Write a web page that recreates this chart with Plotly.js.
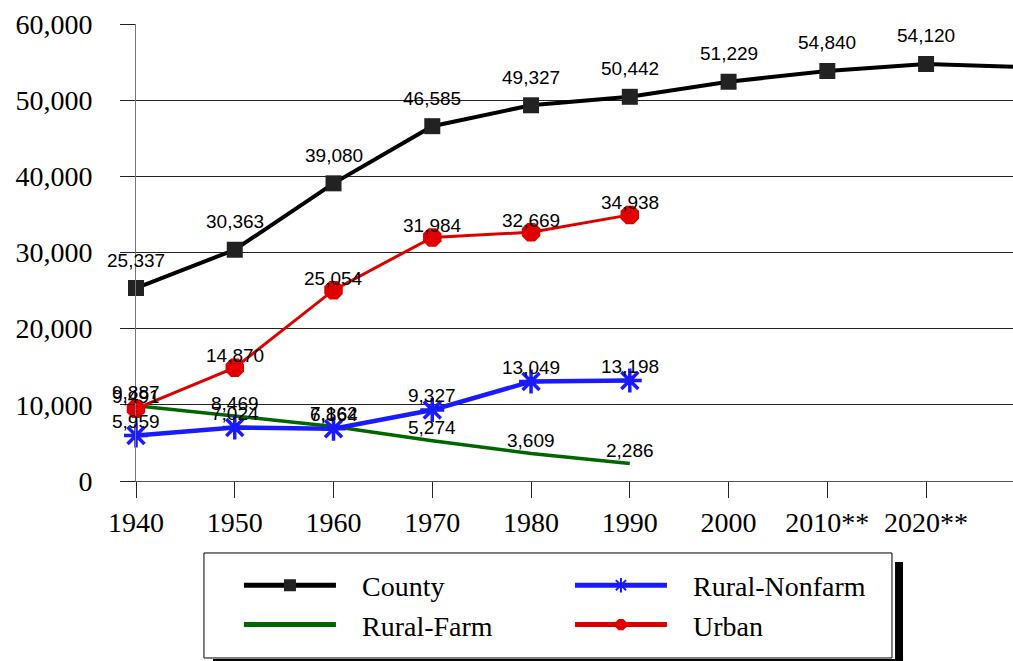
<!DOCTYPE html>
<html>
<head>
<meta charset="utf-8">
<script src="https://cdn.plot.ly/plotly-3.0.1.min.js"></script>
<style>
  html, body { margin: 0; padding: 0; background: #fff; }
  #chart { width: 1013px; height: 661px; }
</style>
</head>
<body>
<div id="chart"></div>
<script>
// ---- data ----
const years = [1940, 1950, 1960, 1970, 1980, 1990];
const countyYears = [1940, 1950, 1960, 1970, 1980, 1990, 2000, 2010, 2020, 2030];
const countyValues = [25337, 30363, 39080, 46585, 49327, 50442, 52420, 53830, 54750, 54340];
const countyLabels = ["25,337", "30,363", "39,080", "46,585", "49,327", "50,442", "51,229", "54,840", "54,120", ""];
const ruralFarm = [9887, 8469, 7162, 5274, 3609, 2286];
const ruralNonfarm = [5959, 7024, 6864, 9327, 13049, 13198];
const urban = [9491, 14870, 25054, 31984, 32669, 34938];
const tickYears = [1940, 1950, 1960, 1970, 1980, 1990, 2000, 2010, 2020];
const tickLabels = ["1940", "1950", "1960", "1970", "1980", "1990", "2000", "2010**", "2020**"];

const fmt = v => v.toLocaleString('en-US');
const pad = '\u00a0\u00a0\u00a0';

const traces = [
  {
    name: pad + 'County', x: countyYears, y: countyValues, type: 'scatter', mode: 'lines+markers',
    line: { color: '#000000', width: 4 },
    marker: { symbol: 'square', size: 16, color: '#222222' },
    cliponaxis: false, legendrank: 1
  },
  {
    name: pad + 'Rural-Farm', x: years, y: ruralFarm, type: 'scatter', mode: 'lines',
    line: { color: '#006600', width: 3.5 },
    cliponaxis: false, legendrank: 3
  },
  {
    name: pad + 'Urban', x: years, y: urban, type: 'scatter', mode: 'lines+markers',
    line: { color: '#dd0000', width: 3 },
    marker: { symbol: 'octagon', size: 20, color: '#e00000' },
    cliponaxis: false, legendrank: 4
  },
  {
    name: pad + 'Rural-Nonfarm', x: years, y: ruralNonfarm, type: 'scatter', mode: 'lines+markers',
    line: { color: '#1a1aff', width: 4.5 },
    marker: { symbol: 'asterisk-open', size: 20, color: '#1a1aff', line: { color: '#1a1aff', width: 3.5 } },
    cliponaxis: false, legendrank: 2
  }
];

function labelAnns(xs, ys, texts, shift) {
  return xs.map((x, i) => ({
    x: x, y: ys[i], xref: 'x', yref: 'y', text: texts[i], showarrow: false,
    yanchor: 'middle', xanchor: 'center', yshift: shift,
    font: { family: 'Liberation Sans, Arial, sans-serif', size: 19, color: '#000' }
  })).filter(a => a.text !== '');
}

const annotations = []
  .concat(labelAnns(countyYears, countyValues, countyLabels, 28))
  .concat(labelAnns(years, ruralFarm, ruralFarm.map(fmt), 13))
  .concat(labelAnns(years, urban, urban.map(fmt), 12))
  .concat(labelAnns(years, ruralNonfarm, ruralNonfarm.map(fmt), 14));

const layout = {
  width: 1013, height: 661,
  margin: { l: 136, r: 0, t: 24, b: 180, pad: 0, autoexpand: false },
  paper_bgcolor: '#ffffff', plot_bgcolor: '#ffffff',
  font: { family: 'Liberation Serif, Times New Roman, serif', color: '#000' },
  showlegend: true,
  xaxis: {
    range: [1940, 2028.8], tickvals: tickYears, ticktext: tickLabels,
    showgrid: false, zeroline: false, showline: true, linecolor: '#555', linewidth: 1,
    ticks: 'outside', ticklen: 16, tickcolor: '#222', tickwidth: 1,
    tickfont: { family: 'Liberation Serif, Times New Roman, serif', size: 28, color: '#000' }
  },
  yaxis: {
    range: [0, 60000], dtick: 10000, tickformat: ',d',
    showgrid: true, gridcolor: '#222', gridwidth: 1, zeroline: false,
    showline: true, linecolor: '#777', linewidth: 1,
    ticks: 'outside', ticklen: 15, tickcolor: '#222', tickwidth: 1,
    ticklabelstandoff: 22,
    tickfont: { family: 'Liberation Serif, Times New Roman, serif', size: 28, color: '#000' }
  },
  legend: {
    orientation: 'h', x: 0.1174, y: -0.1740, xanchor: 'left', yanchor: 'top',
    xref: 'paper', yref: 'paper',
    bgcolor: 'rgba(0,0,0,0)', borderwidth: 0,
    itemwidth: 92, entrywidth: 224, traceorder: 'normal', itemsizing: 'constant',
    font: { family: 'Liberation Serif, Times New Roman, serif', size: 28, color: '#000' }
  },
  shapes: [
    { type: 'rect', xref: 'paper', yref: 'paper', x0: 0.0775, x1: 0.8620, y0: -0.1575, y1: -0.3873,
      line: { color: '#000', width: 1 }, fillcolor: 'rgba(0,0,0,0)', layer: 'below' },
    { type: 'rect', xref: 'paper', yref: 'paper', x0: 0.8655, x1: 0.8746, y0: -0.1772, y1: -0.3939,
      line: { width: 0 }, fillcolor: '#000' },
    { type: 'rect', xref: 'paper', yref: 'paper', x0: 0.0878, x1: 0.8746, y0: -0.3895, y1: -0.3939,
      line: { width: 0 }, fillcolor: '#000' }
  ],
  annotations: annotations
};

Plotly.newPlot('chart', traces, layout, { displayModeBar: false, staticPlot: true });
</script>
</body>
</html>
